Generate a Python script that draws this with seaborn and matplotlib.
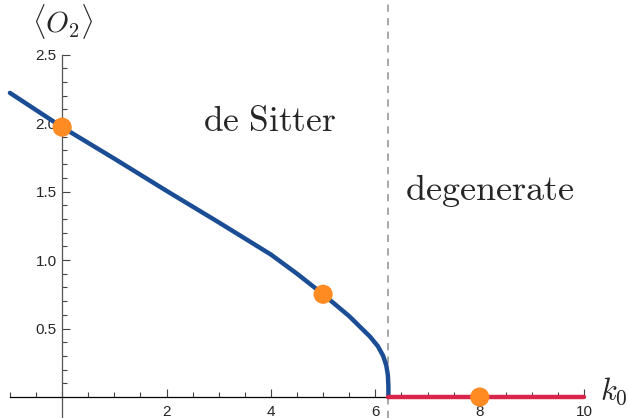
import numpy as np
import pandas as pd
import matplotlib
matplotlib.use("Agg")
import matplotlib.pyplot as plt
import seaborn as sns

# values
k_desitter = [-1.0, 0.0, 1.0, 2.0, 3.0, 4.0, 4.5, 5.0, 5.5, 5.9, 6.05, 6.15, 6.21, 6.24, 6.25, 6.25]
o2_desitter = [2.22, 1.97, 1.74, 1.505, 1.275, 1.04, 0.90, 0.75, 0.59, 0.44, 0.37, 0.30, 0.23, 0.16, 0.08, 0.0]
k_degenerate = [6.25, 10.0]
o2_degenerate = [0.0, 0.0]
k_points = [0.0, 5.0, 8.0]
o2_points = [1.97, 0.75, 0.0]
k_critical = 6.25
xticks_major = [2, 4, 6, 8, 10]
yticks_major = [0.5, 1.0, 1.5, 2.0, 2.5]

sns.set_style("white")
plt.rcParams['font.family'] = ['Liberation Sans', 'DejaVu Sans']
plt.rcParams['mathtext.fontset'] = 'cm'

fig = plt.figure(figsize=(6.28, 4.18), dpi=100)
ax = fig.add_axes([0, 0, 1, 1])

blue = "#1b4d95"
red = "#d8264b"
orange = "#ff8b22"

ds = pd.DataFrame({"k": k_desitter, "o2": o2_desitter})
dg = pd.DataFrame({"k": k_degenerate, "o2": o2_degenerate})
pts = pd.DataFrame({"k": k_points, "o2": o2_points})

ax.axvline(k_critical, color="#a0a0a0", lw=1.3, ls=(0, (4, 3.5)), zorder=1)
sns.lineplot(data=ds, x="k", y="o2", sort=False, estimator=None, color=blue,
             lw=3.2, ax=ax, zorder=3)
sns.lineplot(data=dg, x="k", y="o2", sort=False, estimator=None, color=red,
             lw=3.2, ax=ax, zorder=3)
sns.scatterplot(data=pts, x="k", y="o2", color=orange, s=190, edgecolor="none",
                ax=ax, zorder=4, clip_on=False)

ax.set_xlim(-1.19, 10.84)
ax.set_ylim(-0.153, 2.898)

for side in ["top", "right"]:
    ax.spines[side].set_visible(False)
ax.spines["left"].set_position(("data", 0))
ax.spines["bottom"].set_position(("data", 0))
ax.spines["left"].set_bounds(-0.153, 2.5)
ax.spines["bottom"].set_bounds(-1.0, 10.0)
ax.spines["left"].set_color("#555555")
ax.spines["bottom"].set_color("black")
ax.spines["left"].set_linewidth(0.9)
ax.spines["bottom"].set_linewidth(0.9)

ax.set_xticks(xticks_major)
ax.set_xticks(np.arange(-1.0, 10.01, 0.5), minor=True)
ax.set_yticks(yticks_major)
ax.set_yticks(np.arange(0.1, 2.51, 0.1), minor=True)
ax.set_xticklabels([str(t) for t in xticks_major])
ax.set_yticklabels([f"{t:.1f}" for t in yticks_major])
ax.tick_params(axis="both", which="both", bottom=True, left=True)
ax.tick_params(axis="both", which="major", direction="in", length=6, width=0.8,
               labelsize=11, color="#444444")
ax.tick_params(axis="both", which="minor", direction="in", length=3.5, width=0.8,
               color="#444444")
ax.tick_params(axis="x", pad=6)
ax.tick_params(axis="y", pad=4)
ax.set_xlabel("")
ax.set_ylabel("")

ax.text(0, 2.74, r"$\langle O_2 \rangle$", fontsize=21, ha="center", va="center")
ax.text(10.3, 0.04, r"$k_0$", fontsize=22, ha="left", va="center")
ax.text(3.98, 2.01, r"$\mathrm{de\ Sitter}$", fontsize=25.5, ha="center", va="center")
ax.text(8.2, 1.51, r"$\mathrm{degenerate}$", fontsize=26, ha="center", va="center")

fig.savefig("out.png", dpi=100)
